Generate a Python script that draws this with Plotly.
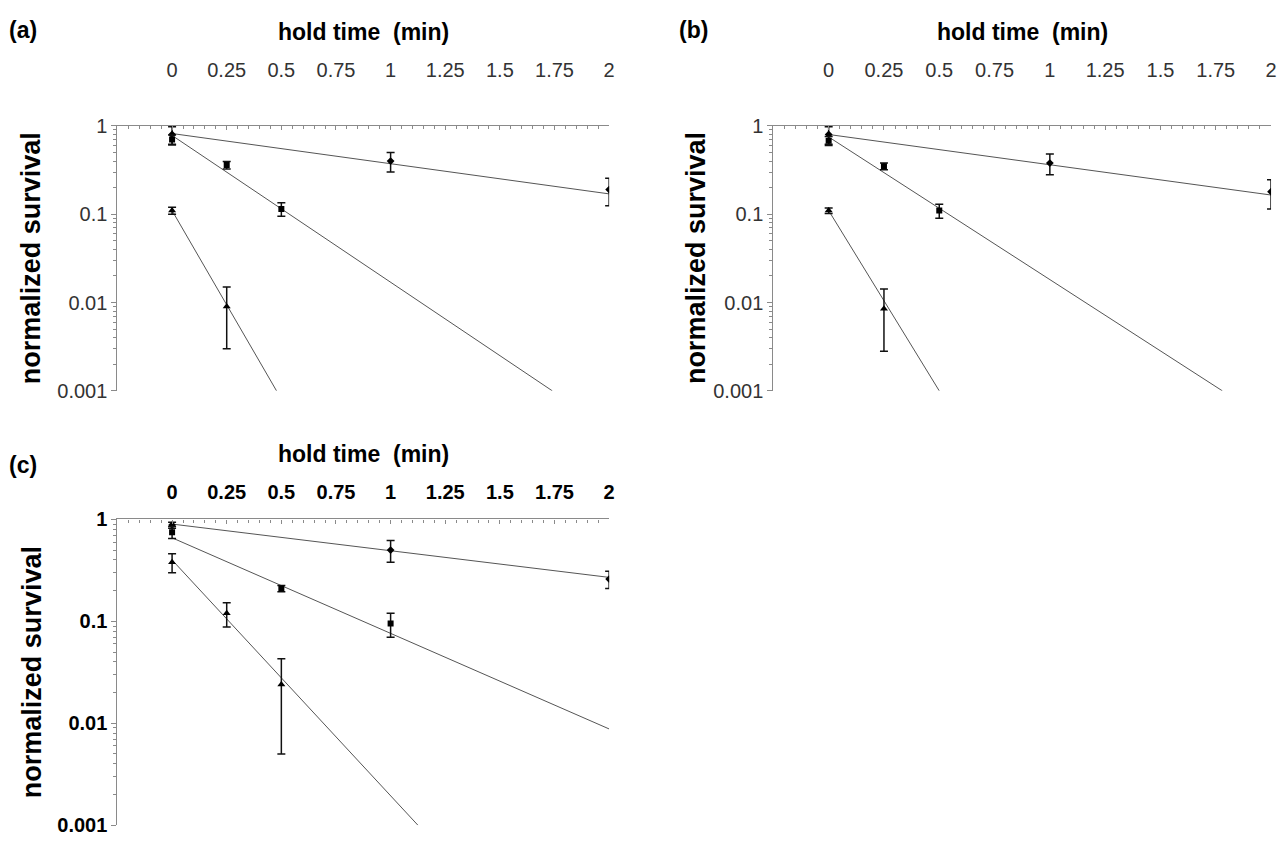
import plotly.graph_objects as go

W, H = 1284, 845

# ---------------- data ----------------
# panel (a)
a_dia_x = [0, 1, 2]
a_dia_y = [0.80, 0.40, 0.19]
a_dia_e = [0.18, 0.10, 0.065]
a_dia_fit_x = [0, 2]
a_dia_fit_y = [0.82, 0.17]
a_sq_x = [0, 0.25, 0.5]
a_sq_y = [0.70, 0.36, 0.115]
a_sq_e = [0.09, 0.035, 0.02]
a_sq_fit_x = [0, 1.74]
a_sq_fit_y = [0.78, 0.001]
a_tri_x = [0, 0.25]
a_tri_y = [0.11, 0.009]
a_tri_e = [0.01, 0.006]
a_tri_fit_x = [0, 0.478]
a_tri_fit_y = [0.11, 0.001]

# panel (b)
b_dia_x = [0, 1, 2]
b_dia_y = [0.80, 0.38, 0.18]
b_dia_e = [0.18, 0.10, 0.065]
b_dia_fit_x = [0, 2]
b_dia_fit_y = [0.80, 0.165]
b_sq_x = [0, 0.25, 0.5]
b_sq_y = [0.68, 0.35, 0.11]
b_sq_e = [0.08, 0.03, 0.02]
b_sq_fit_x = [0, 1.78]
b_sq_fit_y = [0.75, 0.001]
b_tri_x = [0, 0.25]
b_tri_y = [0.11, 0.0085]
b_tri_e = [0.008, 0.0057]
b_tri_fit_x = [0, 0.5]
b_tri_fit_y = [0.11, 0.001]

# panel (c)
c_dia_x = [0, 1, 2]
c_dia_y = [0.88, 0.50, 0.26]
c_dia_e = [0.06, 0.12, 0.05]
c_dia_fit_x = [0, 2]
c_dia_fit_y = [0.90, 0.27]
c_sq_x = [0, 0.5, 1]
c_sq_y = [0.75, 0.21, 0.095]
c_sq_e = [0.10, 0.015, 0.025]
c_sq_fit_x = [0, 2]
c_sq_fit_y = [0.66, 0.0088]
c_tri_x = [0, 0.25, 0.5]
c_tri_y = [0.38, 0.12, 0.024]
c_tri_e = [0.08, 0.032, 0.019]
c_tri_fit_x = [0, 1.125]
c_tri_fit_y = [0.40, 0.001]

x_tickvals = [0, 0.25, 0.5, 0.75, 1, 1.25, 1.5, 1.75, 2]
x_ticktext = ["0", "0.25", "0.5", "0.75", "1", "1.25", "1.5", "1.75", "2"]
y_tickvals = [1, 0.1, 0.01, 0.001]
y_ticktext = ["1", "0.1", "0.01", "0.001"]
x_title = "hold time\u00a0\u00a0(min)"
y_title = "normalized survival"

# ---------------- layout geometry (pixels) ----------------
panels = {
    "a": dict(x0=118, x1=612, y0=118, y1=390, bold=False, standoff=40),
    "b": dict(x0=777, x1=1277, y0=118, y1=390, bold=False, standoff=40),
    "c": dict(x0=118, x1=612, y0=522, y1=836, bold=True, standoff=11),
}

FONT = "Liberation Sans, Arial, sans-serif"
LINE_COL = "#555555"
AXIS_COL = "#8a8a8a"

fig = go.Figure()

series = {
    "a": [(a_dia_x, a_dia_y, a_dia_e, a_dia_fit_x, a_dia_fit_y, "diamond", 6),
          (a_sq_x, a_sq_y, a_sq_e, a_sq_fit_x, a_sq_fit_y, "square", 6),
          (a_tri_x, a_tri_y, a_tri_e, a_tri_fit_x, a_tri_fit_y, "triangle-up", 7)],
    "b": [(b_dia_x, b_dia_y, b_dia_e, b_dia_fit_x, b_dia_fit_y, "diamond", 6),
          (b_sq_x, b_sq_y, b_sq_e, b_sq_fit_x, b_sq_fit_y, "square", 6),
          (b_tri_x, b_tri_y, b_tri_e, b_tri_fit_x, b_tri_fit_y, "triangle-up", 7)],
    "c": [(c_dia_x, c_dia_y, c_dia_e, c_dia_fit_x, c_dia_fit_y, "diamond", 6),
          (c_sq_x, c_sq_y, c_sq_e, c_sq_fit_x, c_sq_fit_y, "square", 6),
          (c_tri_x, c_tri_y, c_tri_e, c_tri_fit_x, c_tri_fit_y, "triangle-up", 7)],
}

minor_y = [m * 10 ** d for d in (-3, -2, -1) for m in range(2, 10)]

annotations = []
for i, key in enumerate(["a", "b", "c"]):
    p = panels[key]
    xa = "x" if i == 0 else f"x{i+1}"
    ya = "y" if i == 0 else f"y{i+1}"
    for (sx, sy, se, fx, fy, sym, ms) in series[key]:
        fig.add_trace(go.Scatter(x=fx, y=fy, mode="lines",
                                 line=dict(color=LINE_COL, width=1),
                                 xaxis=xa, yaxis=ya, showlegend=False, hoverinfo="skip"))
        fig.add_trace(go.Scatter(x=sx, y=sy, mode="markers",
                                 marker=dict(symbol=sym, size=ms, color="black"),
                                 error_y=dict(type="data", array=se, visible=True,
                                              color="#111111", thickness=1.5, width=4),
                                 xaxis=xa, yaxis=ya, showlegend=False))
    tfont = dict(family=FONT, size=20, color="#000000" if p["bold"] else "#333333",
                 weight="bold" if p["bold"] else "normal")
    xdom = [p["x0"] / W, p["x1"] / W]
    ydom = [1 - p["y1"] / H, 1 - p["y0"] / H]
    xkey = "xaxis" if i == 0 else f"xaxis{i+1}"
    ykey = "yaxis" if i == 0 else f"yaxis{i+1}"
    fig.update_layout(**{
        xkey: dict(domain=xdom, anchor=ya, side="top", range=[-0.25, 2],
                   tickmode="array", tickvals=x_tickvals, ticktext=x_ticktext,
                   ticks="inside", ticklen=4, tickcolor=AXIS_COL,
                   ticklabelstandoff=p["standoff"],
                   minor=dict(tickmode="linear", tick0=0, dtick=0.05, ticks="inside",
                              ticklen=3, tickcolor=AXIS_COL, showgrid=False),
                   showline=True, linecolor=AXIS_COL, linewidth=1.2,
                   showgrid=False, zeroline=False, tickfont=tfont),
        ykey: dict(domain=ydom, anchor=xa, type="log", range=[-3, 0],
                   tickmode="array", tickvals=y_tickvals, ticktext=y_ticktext,
                   ticks="outside", ticklen=5, tickcolor=AXIS_COL,
                   minor=dict(tickmode="array", tickvals=minor_y, ticks="outside",
                              ticklen=3, tickcolor=AXIS_COL, showgrid=False),
                   showline=True, linecolor=AXIS_COL, linewidth=1.2,
                   showgrid=False, zeroline=False, tickfont=tfont),
    })
    # panel letter, axis titles
    lab_y = 20 if key != "c" else 466
    lab_x = 23 if key != "b" else 697
    annotations.append(dict(text=f"({key})", x=lab_x / W, y=1 - lab_y / H, xref="paper", yref="paper",
                            showarrow=False, xanchor="center", yanchor="middle",
                            font=dict(family=FONT, size=23, color="black", weight="bold")))
    tx = (p["x0"] + p["x1"]) / 2
    ty = 22 if key != "c" else 455
    annotations.append(dict(text=x_title, x=tx / W, y=1 - ty / H, xref="paper", yref="paper",
                            showarrow=False, xanchor="center", yanchor="middle",
                            font=dict(family=FONT, size=23, color="black", weight="bold")))
    yx = 32 if key != "b" else 700
    yy = (p["y0"] + p["y1"]) / 2
    annotations.append(dict(text=y_title, x=yx / W, y=1 - yy / H, xref="paper", yref="paper",
                            showarrow=False, xanchor="center", yanchor="middle", textangle=-90,
                            font=dict(family=FONT, size=27, color="black", weight="bold")))

fig.update_layout(width=W, height=H, autosize=False,
                  margin=dict(l=0, r=0, t=0, b=0),
                  paper_bgcolor="white", plot_bgcolor="white",
                  annotations=annotations, showlegend=False)

fig.write_html("out.html")
